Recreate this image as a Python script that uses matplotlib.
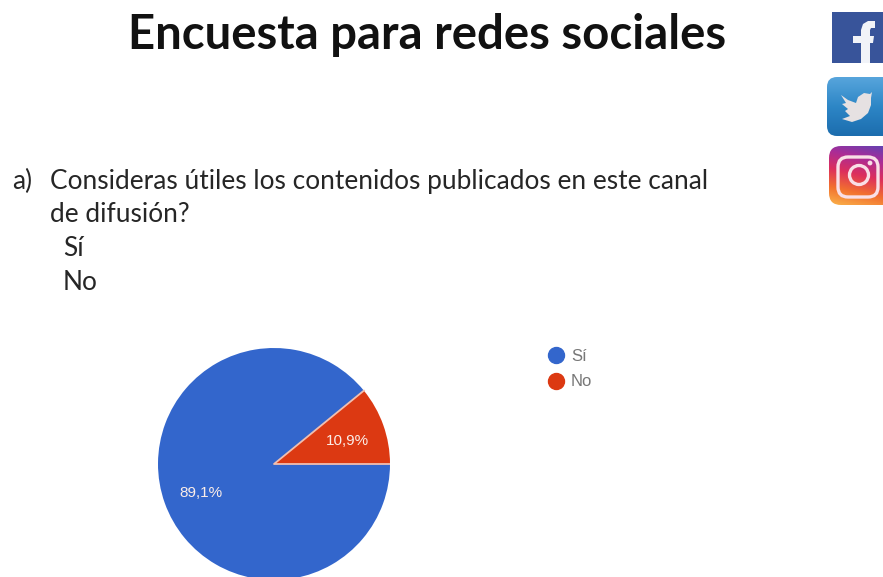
import numpy as np
import matplotlib
matplotlib.use("Agg")
import matplotlib.pyplot as plt
from matplotlib.colors import LinearSegmentedColormap
from matplotlib.lines import Line2D
from matplotlib.patches import Circle, FancyBboxPatch, Polygon, Rectangle

plt.rcParams["font.family"] = ["Lato", "DejaVu Sans"]

# Survey results
categories = ["Sí", "No"]
shares = [89.1, 10.9]
colors = ["#3366CC", "#DC3912"]

title = "Encuesta para redes sociales"
question_marker = "a)"
question_lines = ["Consideras útiles los contenidos publicados en este canal", "de difusión?"]
answers = ["Sí", "No"]

W, H = 883, 577
fig = plt.figure(figsize=(W / 100, H / 100), dpi=100, facecolor="white")

# Slide layer in pixel units for the text and the network icons
slide = fig.add_axes([0, 0, 1, 1])
slide.set_xlim(0, W)
slide.set_ylim(H, 0)
slide.axis("off")

body = {"fontsize": 18.9, "color": "#262626", "va": "center"}
slide.text(427, 35, title, fontsize=34, fontweight="bold", color="#111111", ha="center", va="center")
slide.text(12, 181, question_marker, **body)
slide.text(50, 181, question_lines[0], **body)
slide.text(50, 214, question_lines[1], **body)
slide.text(63, 248, answers[0], **body)
slide.text(63, 283, answers[1], **body)

# Facebook icon
slide.add_patch(Rectangle((832, 12), 51, 51, facecolor="#38549A", edgecolor="none"))
slide.add_patch(Polygon(
    [(861, 63), (861, 43), (853, 43), (853, 36), (861, 36), (861, 30), (863, 24), (868, 21),
     (875, 21), (875, 28), (871, 28), (870, 30), (870, 36), (874, 36), (873, 43), (870, 43), (870, 63)],
    closed=True, facecolor="#F1F3F8", edgecolor="none"))

# Twitter icon with a vertical blue gradient
twitter_cmap = LinearSegmentedColormap.from_list("tw", ["#57A5DC", "#2D86C6", "#1C6DAE"])
gradient = np.linspace(0, 1, 64).reshape(-1, 1)
tw_box = FancyBboxPatch((832, 82), 56, 49, boxstyle="round,pad=5,rounding_size=10",
                        facecolor="none", edgecolor="none")
slide.add_patch(tw_box)
tw_img = slide.imshow(gradient, cmap=twitter_cmap, extent=(827, 893, 136, 77), aspect="auto", zorder=1)
tw_img.set_clip_path(tw_box)
slide.add_patch(Polygon(
    [(841, 95), (848, 100), (856, 103), (858, 97), (864, 93), (870, 94), (872, 92), (871, 98),
     (871, 105), (868, 113), (861, 119), (852, 122), (842, 119), (850, 116), (845, 111),
     (848, 109), (842, 104), (846, 103)],
    closed=True, facecolor="#E6E1E2", edgecolor="none", zorder=2))

# Instagram icon with a sunset gradient rising from the lower left
insta_cmap = LinearSegmentedColormap.from_list(
    "ig", ["#5A45B5", "#A92C98", "#DD2F5C", "#F2702F", "#FAB24A"])
yy, xx = np.mgrid[0:1:96j, 0:1:96j]
ig_values = np.clip(yy * 0.8 + (1 - xx) * 0.2, 0, 1)
ig_box = FancyBboxPatch((834, 151), 56, 49, boxstyle="round,pad=5,rounding_size=12",
                        facecolor="none", edgecolor="none")
slide.add_patch(ig_box)
ig_img = slide.imshow(ig_values, cmap=insta_cmap, vmin=0, vmax=1, origin="upper",
                      extent=(829, 895, 205, 146), aspect="auto", zorder=1)
ig_img.set_clip_path(ig_box)
slide.add_patch(FancyBboxPatch((838, 157), 40, 40, boxstyle="round,pad=0,rounding_size=10",
                               facecolor="none", edgecolor="#F9DFE6", linewidth=2.4, zorder=2))
slide.add_patch(Circle((859, 175), 9.5, facecolor="none", edgecolor="#F9DFE6", linewidth=2.4, zorder=2))
slide.add_patch(Circle((870, 163), 2.4, facecolor="#F9DFE6", edgecolor="none", zorder=2))
slide.set_xlim(0, W)
slide.set_ylim(H, 0)

# Pie chart, running anticlockwise so that "No" starts on the horizontal axis
boundary = np.deg2rad(shares[1] * 3.6)
pie_ax = fig.add_axes([158 / W, (H - 580) / H, 232 / W, 232 / H])
wedges, _, autotexts = pie_ax.pie(
    shares,
    colors=colors,
    startangle=shares[1] * 3.6,
    counterclock=True,
    radius=1,
    autopct=lambda p: f"{p:.1f}%".replace(".", ","),
    pctdistance=0.67,
    wedgeprops={"edgecolor": "none"},
    textprops={"color": "#FBEDE8", "fontsize": 11, "family": "Liberation Sans"},
)
pie_ax.set_xlim(-1, 1)
pie_ax.set_ylim(-1, 1)
for w in wedges:
    w.set_clip_on(False)
for t in autotexts:
    x, y = t.get_position()
    t.set_position((x, y - 0.025))

# Pale separators along the two edges of the smaller slice
pie_ax.plot([1, 0, np.cos(boundary)], [0, 0, np.sin(boundary)], color="#F1BFB0", linewidth=1.3, zorder=3)

handles = [Line2D([], [], linestyle="none", marker="o", markersize=11.5, color=c) for c in colors]
fig.legend(
    handles, categories,
    loc="upper left", bbox_to_anchor=(546 / W, 1 - 349 / H),
    frameon=False, labelcolor="#777777",
    labelspacing=0.62, handlelength=1.2, handletextpad=0.3, borderpad=0, borderaxespad=0,
    prop={"family": "Liberation Sans", "size": 12},
)

fig.savefig("out.png", dpi=100, facecolor="white")
